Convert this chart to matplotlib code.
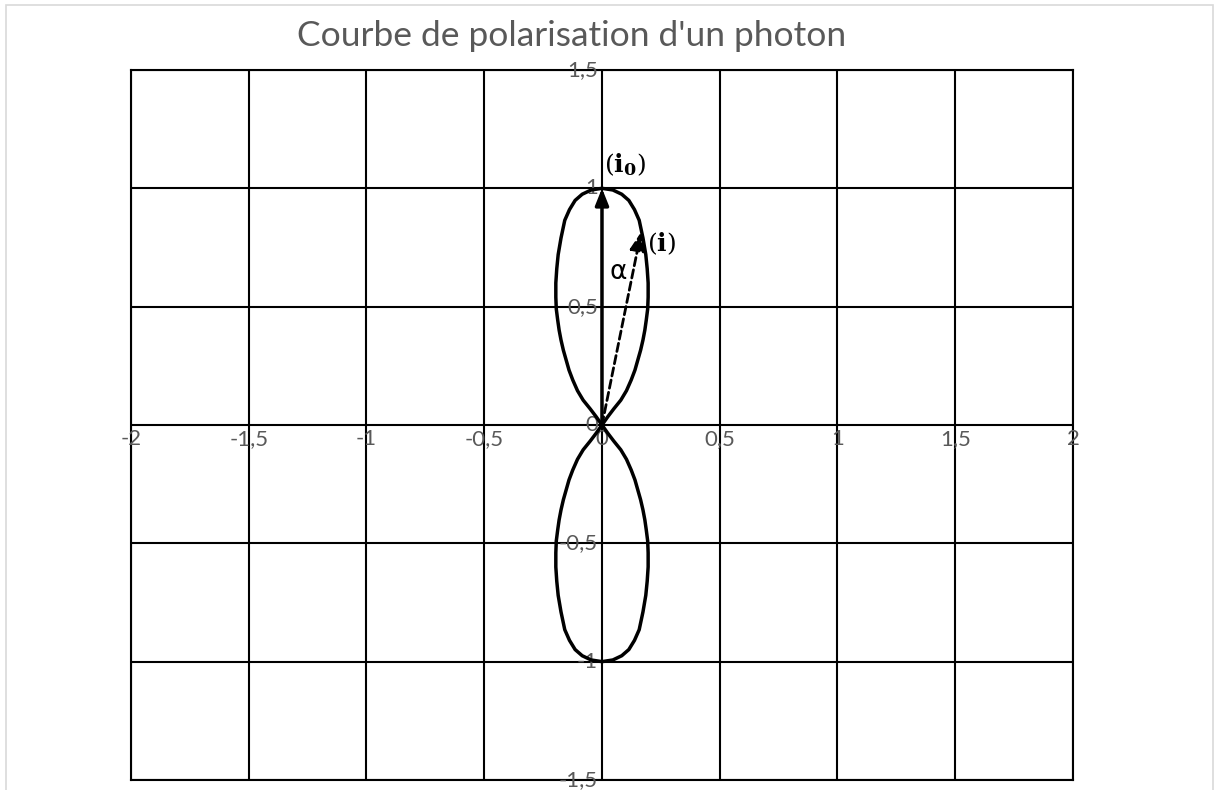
import matplotlib
matplotlib.use("Agg")
import matplotlib.pyplot as plt
from matplotlib.patches import Rectangle
import numpy as np

# right half of the upper lobe (origin -> top)
lobe_x = [0, 0.024, 0.050, 0.080, 0.104, 0.124, 0.140, 0.152, 0.164, 0.174, 0.182,
          0.188, 0.194, 0.196, 0.196, 0.192, 0.186, 0.174, 0.158, 0.138, 0.114,
          0.084, 0.046, 0]
lobe_y = [0, 0.034, 0.068, 0.105, 0.145, 0.190, 0.232, 0.274, 0.316, 0.359, 0.401,
          0.443, 0.490, 0.540, 0.600, 0.660, 0.720, 0.790, 0.865, 0.910, 0.949,
          0.975, 0.993, 1.0]

x_ticks = [-2, -1.5, -1, -0.5, 0, 0.5, 1, 1.5, 2]
y_ticks = [-1.5, -1, -0.5, 0, 0.5, 1, 1.5]

i0_tip = (0, 1.0)
i_tip = (0.166, 0.815)

gray = '#595959'
plt.rcParams['font.family'] = ['Lato', 'DejaVu Sans']
plt.rcParams['mathtext.fontset'] = 'dejavuserif'

fig = plt.figure(figsize=(12.16, 7.90), dpi=100)
# light frame of the chart area
fig.patches.append(Rectangle((0.005, -0.05), 0.9925, 1.0437, transform=fig.transFigure,
                             fill=False, edgecolor='#d9d9d9', linewidth=1.2))
ax = fig.add_axes([0.1077, 0.0127, 0.7747, 0.8987])

# whole curve: upper right, upper left, lower lobes by symmetry
lx = np.array(lobe_x)
ly = np.array(lobe_y)
up_x = np.concatenate([lx, -lx[::-1]])
up_y = np.concatenate([ly, ly[::-1]])
ax.plot(up_x, up_y, color='black', lw=2.5, solid_joinstyle='round', zorder=4)
ax.plot(up_x, -up_y, color='black', lw=2.5, solid_joinstyle='round', zorder=4)

ax.set_xlim(x_ticks[0], x_ticks[-1])
ax.set_ylim(y_ticks[0], y_ticks[-1])
ax.set_xticks(x_ticks)
ax.set_yticks(y_ticks)
ax.tick_params(length=0, labelbottom=False, labelleft=False)
ax.grid(True, color='black', lw=1.5)
for s in ax.spines.values():
    s.set_linewidth(1.5)
ax.set_axisbelow(True)

def fmt(v):
    s = ('%g' % v).replace('.', ',')
    return s

for v in x_ticks:
    ax.annotate(fmt(v), (v, 0), xytext=(0, -3), textcoords='offset points',
                ha='center', va='top', fontsize=16, color=gray, zorder=3)
for v in y_ticks:
    ax.annotate(fmt(v), (0, v), xytext=(-3, 0), textcoords='offset points',
                ha='right', va='center', fontsize=16, color=gray, zorder=3)

# arrows
ax.annotate('', xy=i0_tip, xytext=(0, 0),
            arrowprops=dict(arrowstyle='-|>,head_length=1.0,head_width=0.4',
                            color='black', lw=2.5, shrinkA=0, shrinkB=0), zorder=5)
ax.annotate('', xy=i_tip, xytext=(0, 0),
            arrowprops=dict(arrowstyle='-|>,head_length=1.1,head_width=0.45',
                            color='black', lw=2, linestyle=(0, (3, 1.5)),
                            shrinkA=0, shrinkB=0), zorder=5)

ax.text(0.01, 1.1, r'$(\mathbf{i}_\mathbf{0})$', fontsize=18,
        ha='left', va='center')
ax.text(0.19, 0.765, r'$(\mathbf{i})$', fontsize=18,
        ha='left', va='center')
ax.text(0.068, 0.645, '\u03b1', fontsize=19, ha='center', va='center',
        family=['DejaVu Sans'])

fig.text(0.47, 0.955, "Courbe de polarisation d'un photon", ha='center', va='center',
         fontsize=25.5, color=gray)

fig.savefig('out.png', dpi=100)
